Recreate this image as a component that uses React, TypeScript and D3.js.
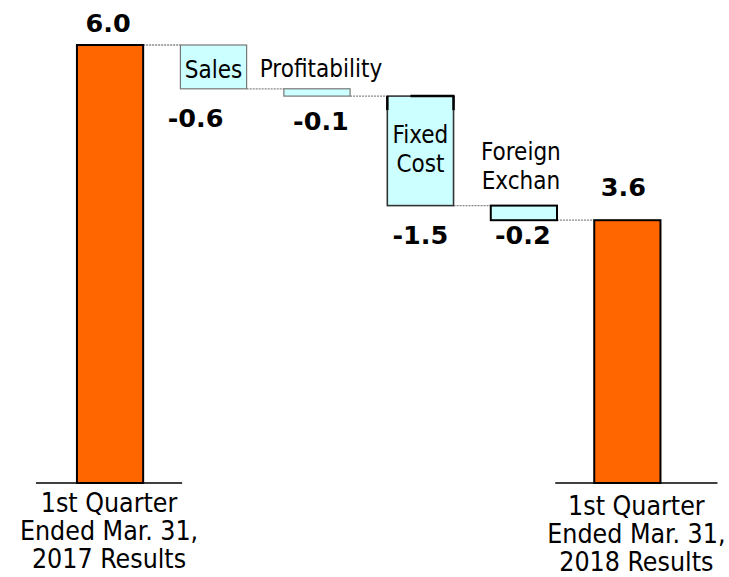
import React from "react";
import * as d3 from "d3";

// ---- data ----
const categories = [
  "1st Quarter Ended Mar. 31, 2017 Results",
  "Sales",
  "Profitability",
  "Fixed Cost",
  "Foreign Exchange",
  "1st Quarter Ended Mar. 31, 2018 Results",
];
const values = [6.0, -0.6, -0.1, -1.5, -0.2, 3.6];
const kinds = ["total", "delta", "delta", "delta", "delta", "total"];
const valueLabels = ["6.0", "-0.6", "-0.1", "-1.5", "-0.2", "3.6"];
const labelLines = [
  ["1st Quarter", "Ended Mar. 31,", "2017 Results"],
  ["Sales"],
  ["Profitability"],
  ["Fixed", "Cost"],
  ["Foreign", "Exchan"],
  ["1st Quarter", "Ended Mar. 31,", "2018 Results"],
];

// ---- layout (not data) ----
const W = 729;
const H = 577;
// value label offset: [dx from bar center, dy from bar top (totals) / bar bottom (deltas)]
const valueLabelOffset: [number, number][] = [
  [-2, -13],
  [-18, 38],
  [4, 34],
  [0, 38],
  [-1, 24],
  [-4, -24],
];
// in-chart label: [dx from center, dy of first baseline from bar top]
const innerLabelOffset: [number, number][] = [
  [0, 0],
  [0, 33],
  [4, -12],
  [0, 47],
  [-3, -46],
  [0, 0],
];
const deltaStroke = ["", "#777", "#777", "#333", "#000", ""];
const deltaStrokeW = [0, 1.2, 1.2, 1.6, 2, 0];

export default function App() {
  const x = d3
    .scaleBand<string>()
    .domain(categories)
    .range([39.7, 697.7])
    .paddingInner(0.36)
    .paddingOuter(0.36);
  const y = d3.scaleLinear().domain([0, 6]).range([483, 45]);
  const bw = x.bandwidth();
  const font = "'DejaVu Sans Condensed', 'Liberation Sans', Arial, sans-serif";

  let running = 0;
  const bars = categories.map((c, i) => {
    let lo: number, hi: number;
    if (kinds[i] === "total") {
      running = values[i];
      lo = 0;
      hi = values[i];
    } else {
      const prev = running;
      running = running + values[i];
      lo = Math.min(prev, running);
      hi = Math.max(prev, running);
    }
    return { c, i, x0: x(c)!, x1: x(c)! + bw, top: y(hi), bottom: y(lo), end: running };
  });

  const base = y(0);
  const segs = [
    { b: bars[0], l: bars[0].x0 - 41, r: bars[0].x1 + 39, dy: 29 },
    { b: bars[5], l: bars[5].x0 - 39, r: bars[5].x1 + 57, dy: 32 },
  ];

  return (
    <svg
      width={W}
      height={H}
      style={{ position: "absolute", left: 0, top: 0, background: "#fff" }}
    >
      {/* connectors */}
      {bars.slice(0, -1).map((b, i) => {
        const yy = y(b.end);
        const nx = bars[i + 1].x0;
        return (
          <line
            key={"c" + i}
            x1={b.x1}
            x2={nx}
            y1={yy}
            y2={yy}
            stroke="#888"
            strokeWidth={1.3}
            strokeDasharray="2,1"
          />
        );
      })}
      {/* axis segments */}
      {segs.map((s, k) => (
        <line key={"a" + k} x1={s.l} x2={s.r} y1={base} y2={base} stroke="#000" strokeWidth={1.5} />
      ))}
      {/* bars */}
      {bars.map((b) =>
        kinds[b.i] === "total" ? (
          <rect
            key={"b" + b.i}
            x={b.x0}
            y={b.top}
            width={bw}
            height={b.bottom - b.top}
            fill="#ff6600"
            stroke="#000"
            strokeWidth={2}
          />
        ) : (
          <rect
            key={"b" + b.i}
            x={b.x0}
            y={b.top}
            width={bw}
            height={b.bottom - b.top}
            fill="#ccffff"
            stroke={deltaStroke[b.i]}
            strokeWidth={deltaStrokeW[b.i]}
          />
        )
      )}
      {/* fixed cost top accent */}
      {(() => {
        const b = bars[3];
        const t = 14;
        return (
          <g stroke="#000" strokeWidth={2.5} fill="none">
            <line x1={b.x0} x2={b.x0} y1={b.top} y2={b.top + t} />
            <line x1={b.x1} x2={b.x1} y1={b.top} y2={b.top + t} />
            <line x1={b.x0 + bw * 0.35} x2={b.x1 + 1} y1={b.top} y2={b.top} />
          </g>
        );
      })()}
      {/* value labels */}
      {bars.map((b) => {
        const [dx, dy] = valueLabelOffset[b.i];
        const cx = (b.x0 + b.x1) / 2 + dx;
        const yy = kinds[b.i] === "total" ? b.top + dy : b.bottom + dy;
        return (
          <text
            key={"v" + b.i}
            x={cx}
            y={yy}
            textAnchor="middle"
            fontFamily="'DejaVu Sans', Verdana, sans-serif"
            fontWeight="bold"
            fontSize={25.5}
            fill="#000"
          >
            {valueLabels[b.i]}
          </text>
        );
      })}
      {/* inner category labels */}
      {bars
        .filter((b) => kinds[b.i] === "delta")
        .map((b) => {
          const [dx, dy] = innerLabelOffset[b.i];
          const cx = (b.x0 + b.x1) / 2 + dx;
          return (
            <text
              key={"l" + b.i}
              textAnchor="middle"
              fontFamily={font}
              fontSize={24}
              fill="#000"
            >
              {labelLines[b.i].map((ln, k) => (
                <tspan key={k} x={cx} y={b.top + dy + k * 29}>
                  {ln}
                </tspan>
              ))}
            </text>
          );
        })}
      {/* bottom category labels */}
      {segs.map((s, k) => {
        const cx = (s.l + s.r) / 2;
        return (
          <text key={"t" + k} textAnchor="middle" fontFamily={font} fontSize={26.5} fill="#000">
            {labelLines[s.b.i].map((ln, j) => (
              <tspan key={j} x={cx} y={base + s.dy + j * 28}>
                {ln}
              </tspan>
            ))}
          </text>
        );
      })}
    </svg>
  );
}
